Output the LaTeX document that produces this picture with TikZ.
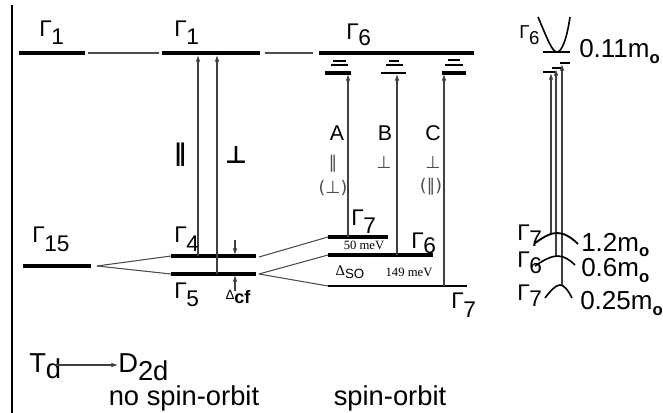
\documentclass[tikz,border=0pt]{standalone}
\usepackage{fontspec}
\setmainfont{Liberation Sans}
\newfontfamily\serf{Liberation Serif}
\newfontfamily\dv{DejaVu Sans}
\usetikzlibrary{arrows.meta}
\newcommand\Gam[2][6pt]{Γ\kern-0.3pt\raisebox{-#1}{#2}}
\newcommand\mo{m\raisebox{-4.5pt}{\fontsize{12.5}{12.5}\selectfont\bfseries o}}
\begin{document}
\begin{tikzpicture}[x=0.75pt,y=-0.75pt,
  lev/.style={line width=2.3pt},
  medlev/.style={line width=1.3pt},
  thinlev/.style={line width=0.8pt},
  link/.style={line width=0.8pt, black!70},
  trans/.style={line width=0.8pt, black!75, -{Latex[length=5pt,width=3.5pt]}},
  glab/.style={font=\fontsize{17}{17}\selectfont, inner sep=0pt, anchor=base west},
  slab/.style={font=\fontsize{14}{14}\selectfont, inner sep=0pt, anchor=base west},
  big/.style={font=\fontsize{20.5}{20.5}\selectfont, inner sep=0pt},
  rbig/.style={font=\fontsize{19.5}{19.5}\selectfont, inner sep=0pt, anchor=base west},
  abc/.style={font=\fontsize{16}{16}\selectfont, inner sep=0pt},
  pol/.style={font=\dv\bfseries\fontsize{18}{18}\selectfont, inner sep=0pt},
  spol/.style={font=\dv\fontsize{13}{13}\selectfont, inner sep=0pt, black!70},
  mev/.style={font=\serf\fontsize{9.5}{9.5}\selectfont, inner sep=0pt},
  band/.style={line width=1.2pt}]
\useasboundingbox (0,0) rectangle (663,413);
% frame line
\coordinate (f1) at (12,5); \coordinate (f2) at (12,413);
\draw[line width=0.9pt] (f1) -- (f2);

% levels: coordinates
\coordinate (g1aL) at (19,53);  \coordinate (g1aR) at (85,53);
\coordinate (c1L) at (88,53);   \coordinate (c1R) at (159,53);
\coordinate (g1bL) at (162,53); \coordinate (g1bR) at (260,53);
\coordinate (c2L) at (265,53);  \coordinate (c2R) at (313,53);
\coordinate (g6L) at (319,53);  \coordinate (g6R) at (474,53);
\coordinate (g15L) at (23,266); \coordinate (g15R) at (91,266);
\coordinate (fan) at (97,266);
\coordinate (g4L) at (171,256); \coordinate (g4R) at (256,256);
\coordinate (g5L) at (171,274); \coordinate (g5R) at (256,274);
\coordinate (fa) at (259,257);  \coordinate (fb) at (259,274);
\coordinate (s7L) at (328,237); \coordinate (s7R) at (388,237);
\coordinate (s6L) at (328,255); \coordinate (s6R) at (433,255);
\coordinate (t7L) at (328,286); \coordinate (t7R) at (467,286);

\draw[lev] (g1aL) -- (g1aR);
\draw[link] (c1L) -- (c1R);
\draw[lev] (g1bL) -- (g1bR);
\draw[link] (c2L) -- (c2R);
\draw[lev] (g6L) -- (g6R);
\draw[lev] (g15L) -- (g15R);
\draw[link] (fan) -- (g4L);
\draw[link] (fan) -- (g5L);
\draw[lev] (g4L) -- (g4R);
\draw[lev] (g5L) -- (g5R);
\draw[link] (fa) -- (s7L);
\draw[link] (fb) -- (s6L);
\draw[link] (fb) -- (t7L);
\draw[lev] (s7L) -- (s7R);
\draw[lev] (s6L) -- (s6R);
\draw[medlev] (t7L) -- (t7R);

% exciton sub-levels under Gamma6
\coordinate (a1L) at (333,61); \coordinate (a1R) at (346,61);
\coordinate (a2L) at (331,65); \coordinate (a2R) at (348,65);
\coordinate (a3L) at (325,73); \coordinate (a3R) at (351,73);
\coordinate (b1L) at (389,61); \coordinate (b1R) at (399,61);
\coordinate (b2L) at (386,65); \coordinate (b2R) at (403,65);
\coordinate (b3L) at (381,73); \coordinate (b3R) at (406,73);
\coordinate (k1L) at (448,60); \coordinate (k1R) at (460,60);
\coordinate (k2L) at (445,65); \coordinate (k2R) at (463,65);
\coordinate (k3L) at (442,73); \coordinate (k3R) at (466,73);
\draw[thinlev] (a1L) -- (a1R); \draw[thinlev] (a2L) -- (a2R); \draw[lev] (a3L) -- (a3R);
\draw[thinlev] (b1L) -- (b1R); \draw[thinlev] (b2L) -- (b2R); \draw[medlev] (b3L) -- (b3R);
\draw[medlev] (k1L) -- (k1R); \draw[medlev] (k2L) -- (k2R); \draw[lev] (k3L) -- (k3R);

% transitions
\coordinate (p0) at (198,256); \coordinate (p1) at (198,55);
\coordinate (q0) at (217,274); \coordinate (q1) at (217,55);
\draw[trans] (p0) -- (p1);
\draw[trans] (q0) -- (q1);
\coordinate (A0) at (348,237); \coordinate (A1) at (348,74);
\coordinate (B0) at (397,255); \coordinate (B1) at (397,74);
\coordinate (C0) at (444,286); \coordinate (C1) at (444,74);
\draw[trans] (A0) -- (A1);
\draw[trans] (B0) -- (B1);
\draw[trans] (C0) -- (C1);
% crystal field arrows
\coordinate (d0) at (235,240); \coordinate (d1) at (235,255);
\coordinate (e0) at (235,291); \coordinate (e1) at (235,275);
\draw[trans] (d0) -- (d1);
\draw[trans] (e0) -- (e1);

% labels
\node[glab] (lG1a) at (39,37) {\Gam{1}};
\node[glab] (lG1b) at (174,37) {\Gam{1}};
\node[glab] (lG6) at (346,40) {\Gam[4pt]{6}};
\node[glab] (lG15) at (32,243) {\Gam{15}};
\node[glab] (lG4) at (174,243) {\Gam{4}};
\node[glab] (lG5) at (174,298) {\Gam{5}};
\node[glab] (lG7a) at (351,225) {\Gam{7}};
\node[glab] (lG6b) at (411,248) {\Gam[4pt]{6}};
\node[glab] (lG7c) at (451,308) {\Gam[7pt]{7}};
\node[pol] (par) at (180,155) {∥};
\node[pol] (perp) at (236,155) {⊥};
\node[abc] (lA) at (337,133) {A};
\node[abc] (lB) at (385,133) {B};
\node[abc] (lC) at (433,133) {C};
\node[spol] (pA) at (333,164) {∥};
\node[spol] (pAb) at (333,188) {(⊥)};
\node[spol] (pB) at (384,162) {⊥};
\node[spol] (pC) at (433,162) {⊥};
\node[spol] (pCb) at (431,187) {(∥)};
\node[mev] (m50) at (364,245) {50 meV};
\node[mev] (m149) at (409,272) {149 meV};
\node[inner sep=0pt] (dso) at (350,272) {{\serf\fontsize{11}{11}\selectfont Δ}\raisebox{-2.5pt}{\fontsize{10}{10}\selectfont SO}};
\node[inner sep=0pt] (dcf) at (238,297) {{\fontsize{10}{10}\selectfont Δ}\raisebox{-3pt}{\fontsize{13.5}{13.5}\selectfont\bfseries cf}};

% right panel: bands
\draw[band] (538,17) .. controls (547,38) and (552,52) .. (557,52) .. controls (562,52) and (567,38) .. (570,17);
\coordinate (cbL) at (543,52); \coordinate (cbR) at (570,52);
\draw[thinlev] (cbL) -- (cbR);
\coordinate (x1L) at (543,72); \coordinate (x1R) at (555,72);
\coordinate (x2L) at (552,68); \coordinate (x2R) at (562,68);
\coordinate (x3L) at (560,63); \coordinate (x3R) at (570,63);
\draw[thinlev] (x1L) -- (x1R);
\draw[thinlev] (x2L) -- (x2R);
\draw[thinlev] (x3L) -- (x3R);
\coordinate (r10) at (551,235); \coordinate (r11) at (551,73);
\coordinate (r20) at (556,257); \coordinate (r21) at (556,69);
\coordinate (r30) at (562,285); \coordinate (r31) at (562,64);
\draw[trans] (r10) -- (r11);
\draw[trans] (r20) -- (r21);
\draw[trans] (r30) -- (r31);
\draw[line width=1.4pt] (535,243) .. controls (545,236) and (551,233) .. (557,233) .. controls (563,233) and (570,236) .. (578,244);
\draw[band] (535,266) .. controls (545,259) and (552,256) .. (558,256) .. controls (564,256) and (570,260) .. (575,265);
\draw[band] (545,298) .. controls (551,290) and (556,285) .. (560,285) .. controls (564,285) and (568,290) .. (572,298);
\node[slab] (rG6) at (519,39) {\Gam[4pt]{6}};
\node[glab] (rG7a) at (517,240) {\Gam[5pt]{7}};
\node[glab] (rG6b) at (517,267) {\Gam[5pt]{6}};
\node[glab] (rG7c) at (517,300) {\Gam[5pt]{7}};
\node[rbig] (m011) at (579,58) {0.11\mo};
\node[rbig] (m12) at (581,251) {1.2\mo};
\node[rbig] (m06) at (581,276) {0.6\mo};
\node[rbig] (m025) at (580,309) {0.25\mo};

% bottom
\node[big, anchor=base west] (Td) at (29,372) {T\raisebox{-5pt}{d}};
\node[big, anchor=base west] (D2d) at (118,372) {D\raisebox{-6pt}{2d}};
\coordinate (tdE) at (56,365);
\coordinate (dW) at (118,365);
\draw[trans] (tdE) -- (dW);
\node[big, anchor=base] (nso) at (184,405) {no spin-orbit};
\node[big, anchor=base] (so) at (390,405) {spin-orbit};
\end{tikzpicture}
\end{document}
